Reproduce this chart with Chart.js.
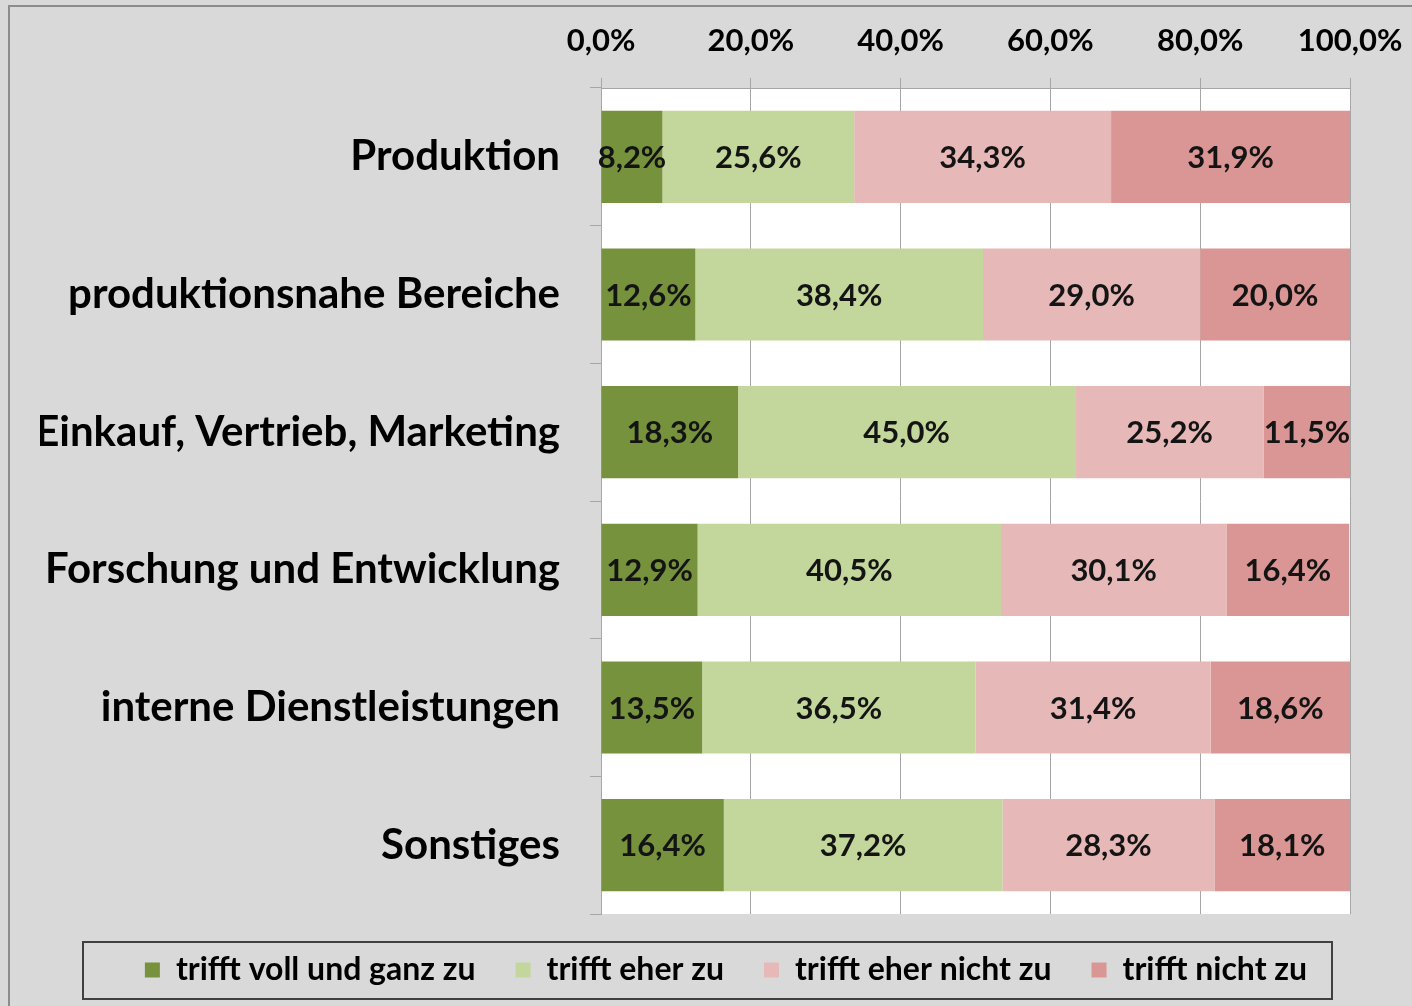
<!DOCTYPE html>
<html>
<head>
<meta charset="utf-8">
<script src="https://cdn.jsdelivr.net/npm/chart.js@4.4.0/dist/chart.umd.min.js"></script>
<style>
  html, body { margin: 0; padding: 0; background: #d9d9d9; }
  #wrap { width: 1412px; height: 1006px; }
</style>
</head>
<body>
<div id="wrap"><canvas id="chart" width="1412" height="1006"></canvas></div>
<script>
// data
const categories = ["Produktion", "produktionsnahe Bereiche", "Einkauf, Vertrieb, Marketing",
  "Forschung und Entwicklung", "interne Dienstleistungen", "Sonstiges"];
const seriesNames = ["trifft voll und ganz zu", "trifft eher zu", "trifft eher nicht zu", "trifft nicht zu"];
const vollUndGanz = [8.2, 12.6, 18.3, 12.9, 13.5, 16.4];
const eherZu = [25.6, 38.4, 45.0, 40.5, 36.5, 37.2];
const eherNicht = [34.3, 29.0, 25.2, 30.1, 31.4, 28.3];
const nichtZu = [31.9, 20.0, 11.5, 16.4, 18.6, 18.1];
const xTicks = [0, 20, 40, 60, 80, 100];

const colors = ["#76923c", "#c3d69b", "#e6b9b8", "#d99694"];
const FONT = "Lato, 'Open Sans', sans-serif";

function fmt(v) {
  return v.toFixed(1).replace(".", ",") + "%";
}

// white plot area, outer frame and legend box
const backdrop = {
  id: "backdrop",
  beforeDraw(chart) {
    const { ctx, chartArea } = chart;
    ctx.save();
    ctx.fillStyle = "#ffffff";
    ctx.fillRect(chartArea.left, chartArea.top, chartArea.right - chartArea.left, chartArea.bottom - chartArea.top);
    ctx.strokeStyle = "#8c8c8c";
    ctx.lineWidth = 2;
    ctx.strokeRect(9, 6, chart.width + 20, chart.height + 20);
    ctx.restore();
  },
  afterDraw(chart) {
    const hb = chart.legend.legendHitBoxes[0];
    const mid = hb.top + hb.height / 2;
    const ctx = chart.ctx;
    ctx.save();
    ctx.strokeStyle = "#404040";
    ctx.lineWidth = 2;
    ctx.strokeRect(83, mid - 28, 1249, 57);
    ctx.restore();
  }
};

// value labels in the middle of each segment
const valueLabels = {
  id: "valueLabels",
  afterDatasetsDraw(chart) {
    const ctx = chart.ctx;
    ctx.save();
    ctx.font = "bold 31px " + FONT;
    ctx.fillStyle = "#141414";
    ctx.textAlign = "center";
    ctx.textBaseline = "middle";
    chart.data.datasets.forEach((ds, i) => {
      chart.getDatasetMeta(i).data.forEach((bar, j) => {
        const cx = (bar.x + bar.base) / 2;
        ctx.fillText(fmt(ds.data[j]), cx, bar.y + 1);
      });
    });
    ctx.restore();
  }
};

const datasets = [vollUndGanz, eherZu, eherNicht, nichtZu].map((d, i) => ({
  label: seriesNames[i],
  data: d,
  backgroundColor: colors[i],
  borderWidth: 0,
  categoryPercentage: 0.67,
  barPercentage: 1.0
}));

new Chart(document.getElementById("chart"), {
  type: "bar",
  data: { labels: categories, datasets: datasets },
  plugins: [backdrop, valueLabels],
  options: {
    indexAxis: "y",
    responsive: false,
    animation: false,
    layout: { padding: { left: 40, right: 0, top: 20, bottom: 10 } },
    plugins: {
      legend: {
        position: "bottom",
        labels: {
          color: "#000",
          font: { family: FONT, size: 32, weight: "bold", lineHeight: 1 },
          boxWidth: 15,
          boxHeight: 15,
          padding: 40
        }
      },
      tooltip: { enabled: false }
    },
    scales: {
      x: {
        position: "top",
        stacked: true,
        min: 0,
        max: 100,
        afterBuildTicks: (s) => { s.ticks = xTicks.map(v => ({ value: v })); },
        afterFit: (s) => { s.height = 68; s.paddingLeft = 0; s.paddingRight = 62; },
        ticks: {
          color: "#000",
          padding: 18,
          font: { family: FONT, size: 31, weight: "bold" },
          callback: (v) => fmt(v)
        },
        grid: { color: "#a6a6a6", lineWidth: 1, tickLength: 10 },
        border: { color: "#a6a6a6" }
      },
      y: {
        stacked: true,
        afterFit: (s) => { s.width = 561; s.paddingTop = 0; s.paddingBottom = 0; },
        ticks: {
          color: "#000",
          padding: 30,
          font: { family: FONT, size: 42, weight: "bold" }
        },
        grid: { drawOnChartArea: false, color: "#a6a6a6", tickLength: 11 },
        border: { color: "#a6a6a6" }
      }
    }
  }
});
</script>
</body>
</html>
